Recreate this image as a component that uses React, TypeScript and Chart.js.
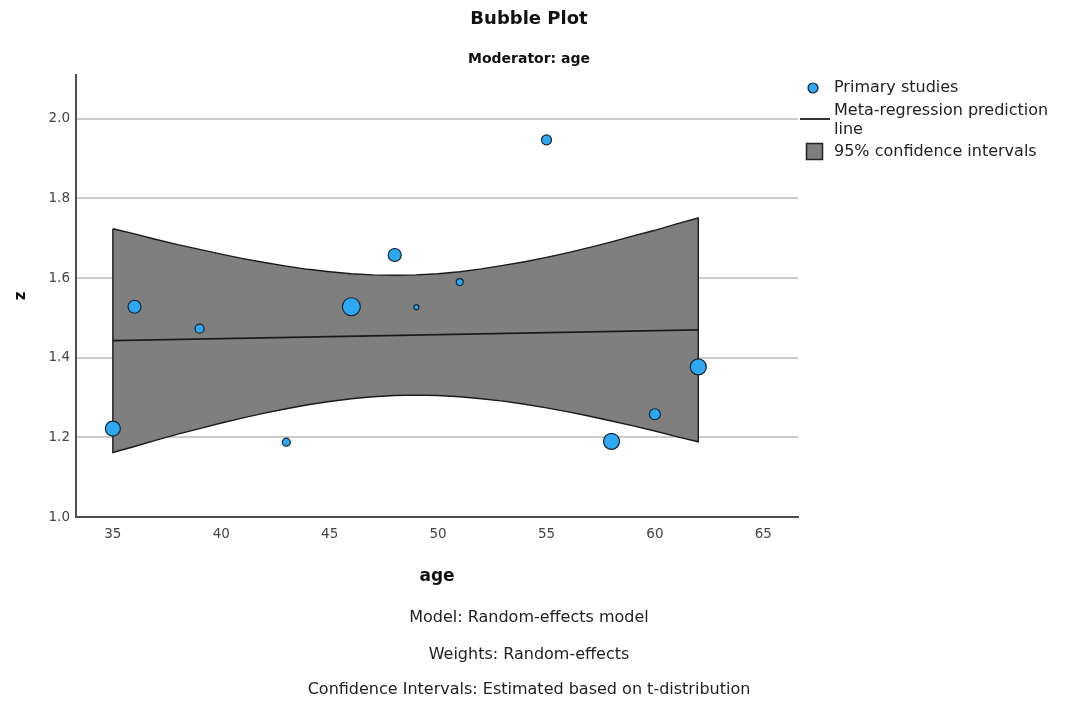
import React, { useEffect, useRef } from "react";
import { Chart, registerables } from "chart.js";

Chart.register(...registerables);

// ---- data ----
const STUDY_AGE = [35, 36, 39, 43, 46, 48, 49, 51, 55, 58, 60, 62];
const STUDY_Z = [1.222, 1.528, 1.473, 1.188, 1.528, 1.658, 1.527, 1.59, 1.947, 1.19, 1.258, 1.377];
const STUDY_WEIGHT_RADIUS = [7.5, 6.5, 4.5, 4, 9, 6.5, 2.5, 3.5, 5, 8, 5.5, 8];

const LINE_AGE = [35, 62];
const LINE_Z = [1.443, 1.47];

const BAND_AGE = [35, 36, 37, 38, 39, 40, 41, 42, 43, 44, 45, 46, 47, 48, 49, 50, 51, 52, 53, 54, 55, 56, 57, 58, 59, 60, 61, 62];
const CI_UPPER = [1.724, 1.711, 1.697, 1.684, 1.672, 1.66, 1.649, 1.639, 1.63, 1.622, 1.616, 1.611, 1.608, 1.607, 1.608, 1.611, 1.616, 1.623, 1.632, 1.641, 1.652, 1.664, 1.677, 1.691, 1.706, 1.72, 1.736, 1.751];
const CI_LOWER = [1.162, 1.177, 1.193, 1.208, 1.222, 1.236, 1.249, 1.261, 1.272, 1.282, 1.29, 1.297, 1.302, 1.305, 1.306, 1.305, 1.302, 1.297, 1.291, 1.283, 1.274, 1.264, 1.253, 1.241, 1.229, 1.216, 1.202, 1.189];

const X_TICKS = [35, 40, 45, 50, 55, 60, 65];
const Y_TICKS = [1.0, 1.2, 1.4, 1.6, 1.8, 2.0];

const TITLE = "Bubble Plot";
const SUBTITLE = "Moderator: age";
const X_TITLE = "age";
const Y_TITLE = "z";
const LEGEND_LABELS = ["Primary studies", "Meta-regression prediction line", "95% confidence intervals"];
const NOTES = [
  "Model: Random-effects model",
  "Weights: Random-effects",
  "Confidence Intervals: Estimated based on t-distribution",
];

// ---- styles ----
const FONT = "'DejaVu Sans', 'Open Sans', sans-serif";
const BUBBLE_FILL = "#2ea8f2";
const BUBBLE_EDGE = "#15232e";
const BAND_FILL = "#7f7f7f";
const DARK = "#1a1a1a";

function wrapText(ctx: CanvasRenderingContext2D, text: string, maxWidth: number): string[] {
  const words = text.split(" ");
  const lines: string[] = [];
  let cur = "";
  for (const w of words) {
    const test = cur ? cur + " " + w : w;
    if (ctx.measureText(test).width > maxWidth && cur) {
      lines.push(cur);
      cur = w;
    } else {
      cur = test;
    }
  }
  if (cur) lines.push(cur);
  return lines;
}

const overlayPlugin = {
  id: "overlay",
  afterDraw(chart: any) {
    const { ctx, chartArea } = chart;
    const left = chartArea.right;
    const top = chartArea.top;
    ctx.save();
    ctx.font = `16px ${FONT}`;
    ctx.textBaseline = "middle";
    ctx.textAlign = "left";
    const textX = left + 36;

    // legend: primary studies
    ctx.beginPath();
    ctx.arc(left + 15, top + 13, 5, 0, Math.PI * 2);
    ctx.fillStyle = BUBBLE_FILL;
    ctx.fill();
    ctx.lineWidth = 1.2;
    ctx.strokeStyle = BUBBLE_EDGE;
    ctx.stroke();
    ctx.fillStyle = "#222";
    ctx.fillText(LEGEND_LABELS[0], textX, top + 13);

    // legend: prediction line
    const lines = wrapText(ctx, LEGEND_LABELS[1], chart.width - textX - 8);
    lines.forEach((l, i) => ctx.fillText(l, textX, top + 36 + i * 19));
    ctx.beginPath();
    ctx.moveTo(left + 2, top + 44);
    ctx.lineTo(left + 32, top + 44);
    ctx.lineWidth = 2;
    ctx.strokeStyle = "#333";
    ctx.stroke();

    // legend: CI
    ctx.beginPath();
    ctx.rect(left + 8.5, top + 68.5, 16, 16);
    ctx.fillStyle = BAND_FILL;
    ctx.fill();
    ctx.lineWidth = 1.5;
    ctx.strokeStyle = "#222";
    ctx.stroke();
    ctx.fillStyle = "#222";
    ctx.fillText(LEGEND_LABELS[2], textX, top + 77);

    // notes under the chart
    ctx.textAlign = "center";
    const cx = (chart.width - 11) / 2;
    const b = chartArea.bottom;
    const offsets = [101, 138, 173];
    NOTES.forEach((n, i) => ctx.fillText(n, cx, b + offsets[i]));
    ctx.restore();
  },
};

export default function App() {
  const ref = useRef<HTMLCanvasElement>(null);

  useEffect(() => {
    if (!ref.current) return;
    Chart.defaults.font.family = FONT;

    const bandData = [
      ...BAND_AGE.map((x, i) => ({ x, y: CI_UPPER[i] })),
      ...BAND_AGE.map((x, i) => ({ x, y: CI_LOWER[i] })).reverse(),
      { x: BAND_AGE[0], y: CI_UPPER[0] },
    ];

    const chart = new Chart(ref.current, {
      type: "bubble",
      data: {
        datasets: [
          {
            type: "bubble",
            label: LEGEND_LABELS[0],
            data: STUDY_AGE.map((x, i) => ({ x, y: STUDY_Z[i], r: STUDY_WEIGHT_RADIUS[i] })),
            backgroundColor: BUBBLE_FILL,
            borderColor: BUBBLE_EDGE,
            borderWidth: 1.2,
            order: 0,
            clip: false,
          } as any,
          {
            type: "line",
            label: LEGEND_LABELS[1],
            data: LINE_AGE.map((x, i) => ({ x, y: LINE_Z[i] })),
            borderColor: DARK,
            borderWidth: 1.6,
            pointRadius: 0,
            fill: false,
            order: 1,
          } as any,
          {
            type: "line",
            label: LEGEND_LABELS[2],
            data: bandData,
            borderColor: DARK,
            borderWidth: 1.4,
            backgroundColor: BAND_FILL,
            fill: "shape",
            pointRadius: 0,
            tension: 0,
            order: 2,
          } as any,
        ],
      },
      options: {
        responsive: false,
        animation: false,
        events: [],
        devicePixelRatio: 1,
        layout: { padding: { left: 0, top: 0, right: 11, bottom: 110 } },
        plugins: {
          legend: { display: false },
          tooltip: { enabled: false },
          title: {
            display: true,
            text: TITLE,
            color: "#111",
            font: { size: 18, weight: "bold", family: FONT },
            padding: { top: 9, bottom: 10 },
          },
          subtitle: {
            display: true,
            text: SUBTITLE,
            color: "#111",
            font: { size: 14, weight: "bold", family: FONT },
            padding: { top: 10, bottom: 7.6 },
          },
        },
        scales: {
          x: {
            type: "linear",
            position: "bottom",
            min: 33.3,
            max: 66.6,
            afterBuildTicks: (s: any) => {
              s.ticks = X_TICKS.map((v) => ({ value: v }));
            },
            afterFit: (s: any) => {
              s.height = 75;
            },
            grid: { display: false, drawTicks: false },
            border: { display: true, color: "#4d4d4d", width: 2 },
            ticks: {
              color: "#444",
              font: { size: 13.5, family: FONT },
              padding: 9,
              callback: (v: any) => String(v),
            },
            title: {
              display: true,
              text: X_TITLE,
              color: "#111",
              font: { size: 17, weight: "bold", family: FONT },
              padding: { top: 4, bottom: 5 },
            },
          },
          y: {
            type: "linear",
            position: "left",
            min: 1.0,
            max: 2.11,
            afterBuildTicks: (s: any) => {
              s.ticks = Y_TICKS.map((v) => ({ value: v }));
            },
            afterFit: (s: any) => {
              s.width = 76;
            },
            grid: { display: true, color: "#cccccc", lineWidth: 2, drawTicks: false },
            border: { display: true, color: "#4d4d4d", width: 2 },
            ticks: {
              color: "#444",
              font: { size: 13.5, family: FONT },
              padding: 6,
              callback: (v: any) => Number(v).toFixed(1),
            },
            title: {
              display: true,
              text: Y_TITLE,
              color: "#111",
              font: { size: 15, weight: "bold", family: FONT },
              padding: { top: 12, bottom: 0 },
            },
          },
          legendSpace: {
            type: "linear",
            position: "right",
            display: true,
            afterFit: (s: any) => {
              s.width = 260;
            },
            grid: { display: false, drawTicks: false },
            border: { display: false },
            ticks: { display: false },
          },
        },
      } as any,
      plugins: [overlayPlugin],
    });

    return () => chart.destroy();
  }, []);

  return (
    <div style={{ position: "absolute", left: 0, top: 0, width: 1069, height: 702, background: "#fff" }}>
      <canvas ref={ref} width={1069} height={702} style={{ display: "block", width: 1069, height: 702 }} />
    </div>
  );
}
